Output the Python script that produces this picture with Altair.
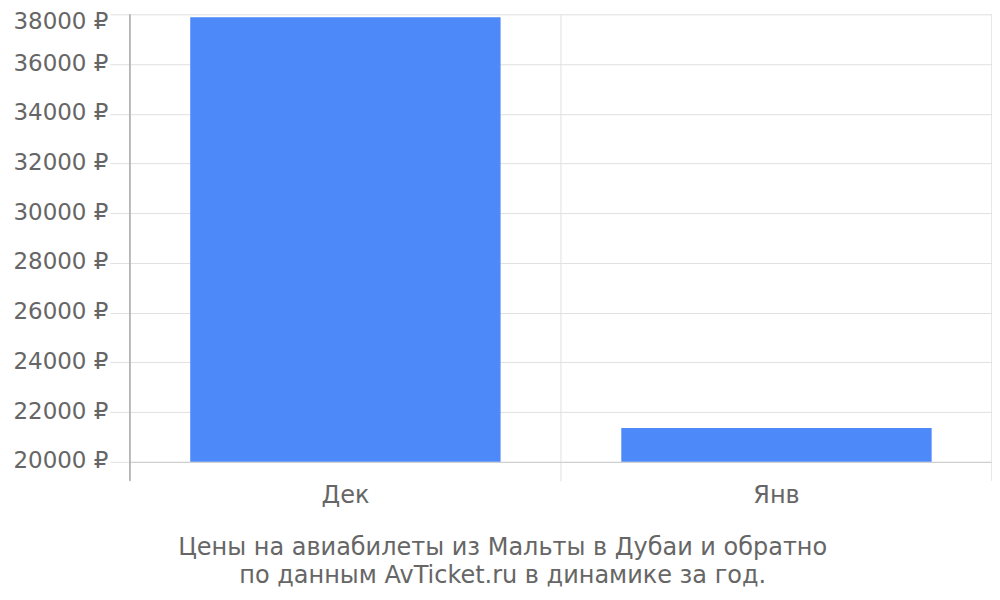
import altair as alt
import pandas as pd

months = ["Дек", "Янв"]
prices = [37880, 21360]
y_ticks = [20000, 22000, 24000, 26000, 28000, 30000, 32000, 34000, 36000, 38000]
title_lines = ["Цены на авиабилеты из Мальты в Дубаи и обратно",
               "по данным AvTicket.ru в динамике за год."]

df = pd.DataFrame({"month": months, "price": prices})

FONT = "DejaVu Sans"
GRID = "#e0e0e0"
W, H = 863, 448

base = alt.Chart(df)

bars = base.mark_bar(color="#4D89F9", width={"band": 0.72}).encode(
    x=alt.X("month:N", sort=months, title=None,
            scale=alt.Scale(paddingInner=0, paddingOuter=0),
            axis=alt.Axis(bandPosition=0, grid=True, gridColor=GRID,
                          ticks=True, tickSize=19, tickColor=GRID,
                          domainColor="#cccccc", labelAngle=0,
                          labelFont=FONT, labelFontSize=24, labelColor="#666666",
                          labelPadding=3)),
    y=alt.Y("price:Q", title=None,
            scale=alt.Scale(domain=[20000, 38000], zero=False, nice=False),
            axis=alt.Axis(values=y_ticks, grid=True, gridColor=GRID,
                          tickSize=20, tickColor=GRID, domain=False,
                          labelExpr="format(datum.value, 'd') + ' ₽'",
                          labelFont=FONT, labelFontSize=23, labelColor="#666666",
                          labelPadding=2,
                          labelOffset={"condition": {"test": "datum.value >= 38000", "value": 7},
                                       "value": -1})),
    y2=alt.datum(20000),
)

right_edge = base.mark_rule(color=GRID, clip=False).encode(
    x=alt.value(W), y=alt.value(0), y2=alt.value(H + 19)
)
left_edge = base.mark_rule(color="#aaaaaa", clip=False).encode(
    x=alt.value(0), y=alt.value(0), y2=alt.value(H + 19)
)

chart = alt.layer(bars, right_edge, left_edge).properties(
    width=W, height=H,
    autosize=alt.AutoSizeParams(type="none"),
    padding={"left": 122, "top": 6, "right": 0, "bottom": 130},
    title=alt.TitleParams(text=title_lines, orient="bottom", anchor="middle",
                          frame="bounds", font=FONT, fontSize=24,
                          fontWeight="normal", color="#666666",
                          lineHeight=28, offset=28),
).configure_view(stroke=None)

chart.save("out.html", embed_options={"renderer": "svg", "actions": False})
